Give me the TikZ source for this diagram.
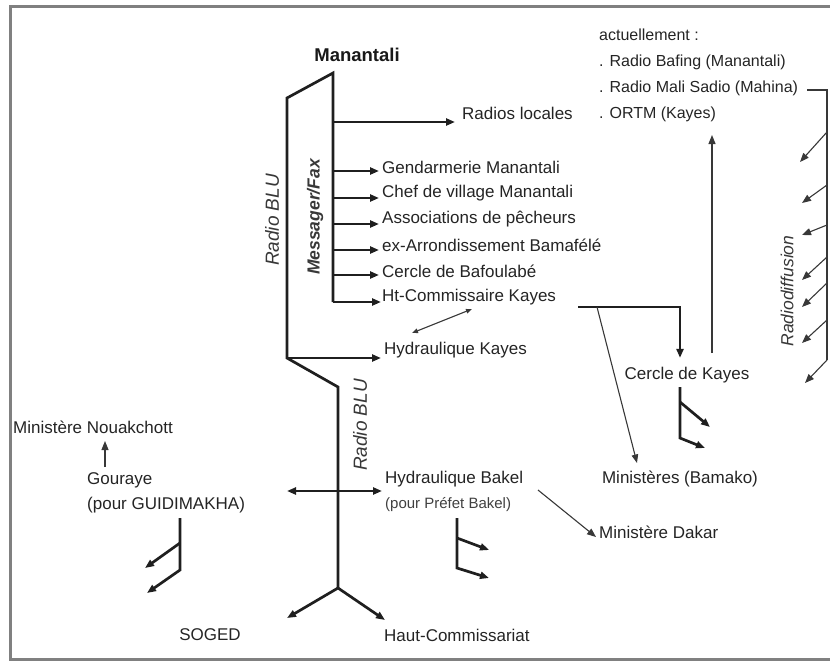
\documentclass[tikz,border=0pt]{standalone}
\usepackage{fontspec}
\setmainfont{Liberation Sans}
\usetikzlibrary{arrows.meta}
\begin{document}
\begin{tikzpicture}[x=1pt,y=-1pt,
  lbl/.style={inner sep=1pt, font=\fontsize{17}{20}\selectfont, text=black!86},
  lblw/.style={lbl, anchor=west},
  tr/.style={inner sep=1pt, anchor=west, font=\fontsize{16}{19}\selectfont, text=black!86},
  smalllbl/.style={inner sep=1pt, anchor=west, font=\fontsize{15}{17}\selectfont, text=black!75},
  rotlbl/.style={rotate=90, inner sep=0pt, font=\fontsize{19}{22}\selectfont\itshape, text=black!78},
  thk/.style={line width=2.7pt, draw=black!88, line join=miter},
  thn/.style={line width=1.1pt, draw=black!78},
  tip/.style={-{Triangle[length=9pt,width=7pt]}},
  tipm/.style={-{Triangle[length=8.5pt,width=6.5pt]}},
  dbl/.style={{Triangle[length=9pt,width=7pt]}-{Triangle[length=9pt,width=7pt]}},
  dbls/.style={{Triangle[length=6pt,width=4.5pt]}-{Triangle[length=6pt,width=4.5pt]}},
]
\useasboundingbox (0,0) rectangle (830,662);
% frame
\draw[line width=3pt, draw=black!50] (850,6) -- (10,6) -- (10,659) -- (850,659);

% ---------- text nodes ----------
\node[inner sep=0pt, font=\fontsize{18.5}{21}\selectfont\bfseries, text=black!90] (man) at (357,55) {Manantali};
\node[lblw] (radios) at (461,113) {Radios locales};
\node[lblw] (gend) at (381,167) {Gendarmerie Manantali};
\node[lblw] (chef) at (381,193) {Chef de village Manantali};
\node[lblw] (assoc) at (381,219) {Associations de pêcheurs};
\node[lblw] (exarr) at (381,245) {ex-Arrondissement Bamafélé};
\node[lblw] (bafou) at (381,271) {Cercle de Bafoulabé};
\node[lblw] (htcom) at (381,297) {Ht-Commissaire Kayes};
\node[lblw] (hydk) at (383,350) {Hydraulique Kayes};
\node[lbl] (cerclek) at (687,375) {Cercle de Kayes};
\node[lbl] (minbam) at (680,479) {Ministères (Bamako)};
\node[lblw] (hydb) at (384,479) {Hydraulique Bakel};
\node[smalllbl] (pourp) at (384,505) {(pour Préfet Bakel)};
\node[lblw] (mindak) at (598,532) {Ministère Dakar};
\node[lbl] (soged) at (210,635) {SOGED};
\node[lblw] (hautc) at (383,635) {Haut-Commissariat};
\node[lblw] (gouraye) at (86,480) {Gouraye};
\node[lblw] (pourg) at (86,505) {(pour GUIDIMAKHA)};
\node[lblw] (minnouak) at (12,427) {Ministère Nouakchott};

\node[tr] (actu) at (598,35) {actuellement :};
\node[tr] (bafing) at (598,62) {. Radio Bafing (Manantali)};
\node[tr] (mali) at (598,88) {. Radio Mali Sadio (Mahina)};
\node[tr] (ortm) at (598,114) {. ORTM (Kayes)};

\node[rotlbl] (blu1) at (272,220) {Radio BLU};
\node[rotlbl, font=\fontsize{17.5}{20}\selectfont\bfseries\itshape] (messager) at (315,217) {Messager/Fax};
\node[rotlbl] (blu2) at (360,425) {Radio BLU};
\node[rotlbl, font=\fontsize{17.5}{20}\selectfont\itshape] (radiodiff) at (787,291) {Radiodiffusion};

% ---------- main Radio BLU structure ----------
\coordinate (t) at (333,73);
\coordinate (l1) at (287,98);
\coordinate (l2) at (287,358);
\coordinate (r1) at (338,387);
\coordinate (r2) at (338,588);
\coordinate (a0) at (333,122);
\coordinate (a1) at (333,171);
\coordinate (a2) at (333,198);
\coordinate (a3) at (333,224);
\coordinate (a4) at (333,250);
\coordinate (a5) at (333,275);
\coordinate (a6) at (333,302);

\draw[thk] (r2) -- (r1) -- (l2) -- (l1) -- (t) -- (a6);
\draw[thk,tip] (a6) -- (a6 -| htcom.west);
\draw[thk,tip] (a0) -- ([xshift=-6pt]a0 -| radios.west);
\foreach \c/\n in {a1/gend,a2/chef,a3/assoc,a4/exarr,a5/bafou}
  \draw[thk,tip] (\c) -- ([xshift=-2pt]\c -| \n.west);
\draw[thk,tip] (l2) -- ([xshift=-2pt]l2 -| hydk.west);

% double arrow Ht-Commissaire <-> Hydraulique Kayes
\coordinate (dk1) at (412,333);
\coordinate (dk2) at (472,309);
\draw[thn,dbls] (dk1) -- (dk2);

% bottom fork
\coordinate (soged0) at (287,618);
\coordinate (haut0) at (385,620);
\draw[thk,tip] (r2) -- (soged0);
\draw[thk,tip] (r2) -- (haut0);

% horizontal double arrow Gouraye <-> Hydraulique Bakel
\coordinate (gl) at (287,491);
\coordinate (gr) at (382,491);
\draw[thk,dbl] (gl) -- (gr);

% ---------- Ht-Commissaire to Cercle de Kayes / Ministeres ----------
\coordinate (hk0) at (578,307);
\coordinate (hk1) at (680,307);
\coordinate (hk2) at (597,307);
\coordinate (mb) at (637,463);
\draw[thk,tip] (hk0) -- (hk1) -- ([yshift=8pt]hk1 |- cerclek.north);
\draw[thn,tipm] (hk2) -- (mb);

% Cercle de Kayes branches
\coordinate (ck0) at (680,387);
\coordinate (ck1) at (680,438);
\coordinate (ck2) at (680,402);
\coordinate (ck3) at (710,427);
\coordinate (ck4) at (705,448);
\draw[thk,tip] (ck0) -- (ck1) -- (ck4);
\draw[thk,tip] (ck2) -- (ck3);

% Cercle de Kayes -> ORTM
\coordinate (or0) at (712,353);
\coordinate (or1) at (712,135);
\draw[thn,tip] (or0) -- (or1);

% ---------- Radiodiffusion ----------
\coordinate (rd0) at (807,90);
\coordinate (rd1) at (827,90);
\coordinate (rd2) at (827,360);
\draw[thn] (rd0) -- (rd1) -- (rd2);
\foreach \ys/\xe/\ye in {132/800/162, 185/802/203, 225/802/235, 257/802/280, 283/802/307, 320/802/343, 360/805/383}
  \draw[thn,tip] (827,\ys) -- (\xe,\ye);

% ---------- Gouraye ----------
\coordinate (gu0) at (105,467);
\coordinate (gu1) at (105,441);
\draw[thn,tip] (gu0) -- (gu1);
\coordinate (gb0) at (180,518);
\coordinate (gb1) at (180,570);
\coordinate (gb2) at (180,543);
\coordinate (gb3) at (145,568);
\coordinate (gb4) at (147,593);
\draw[thk,tip] (gb0) -- (gb1) -- (gb4);
\draw[thk,tip] (gb2) -- (gb3);

% ---------- Hydraulique Bakel ----------
\coordinate (hb0) at (457,518);
\coordinate (hb1) at (457,568);
\coordinate (hb2) at (457,538);
\coordinate (hb3) at (489,550);
\coordinate (hb4) at (489,578);
\draw[thk,tip] (hb0) -- (hb1) -- (hb4);
\draw[thk,tip] (hb2) -- (hb3);
\coordinate (bd0) at (538,490);
\coordinate (bd1) at (596,537);
\draw[thn,tip] (bd0) -- (bd1);
\end{tikzpicture}
\end{document}
